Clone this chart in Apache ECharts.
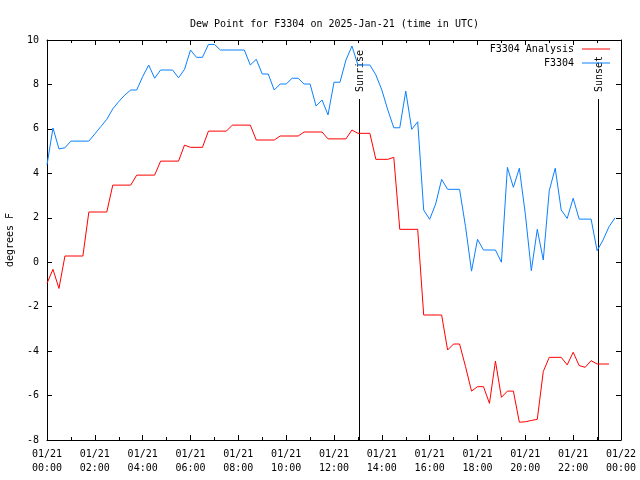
<!DOCTYPE html>
<html>
<head>
<meta charset="utf-8">
<script src="https://cdn.jsdelivr.net/npm/echarts@6/dist/echarts.min.js"></script>
<style>html,body{margin:0;padding:0;background:#fff}#c{width:640px;height:480px}</style>
</head>
<body>
<div id="c"></div>
<script>
// Observed dew point (F3304), time in hours UTC on 2025-01-21
const obsTimes = [0,0.25,0.5,0.75,1.0,1.75,2.25,2.5,2.75,3.0,3.25,3.5,3.75,4.0,4.25,4.5,4.75,5.25,5.5,5.75,6.0,6.25,6.5,6.75,7.0,7.25,8.25,8.5,8.75,9.0,9.25,9.5,9.75,10.0,10.25,10.5,10.75,11.0,11.25,11.5,11.75,12.0,12.25,12.5,12.75,13.0,13.5,13.75,14.0,14.25,14.5,14.75,15.0,15.25,15.5,15.75,16.0,16.25,16.5,16.75,17.25,17.5,17.75,18.0,18.25,18.75,19.0,19.25,19.5,19.75,20.0,20.25,20.5,20.75,21.0,21.25,21.5,21.75,22.0,22.25,22.75,23.0,23.25,23.5,23.75];
const obsValues = [4.38,6.04,5.1,5.15,5.45,5.45,6.1,6.43,6.9,7.23,7.52,7.75,7.75,8.35,8.875,8.28,8.65,8.65,8.3,8.68,9.55,9.22,9.22,9.8,9.8,9.55,9.55,8.875,9.13,8.47,8.47,7.75,8.02,8.02,8.28,8.28,8.02,8.02,7.03,7.3,6.63,8.1,8.1,9.1,9.73,8.875,8.875,8.43,7.75,6.85,6.05,6.05,7.7,5.98,6.32,2.35,1.93,2.62,3.73,3.28,3.28,1.6,-0.4,1.03,0.55,0.55,0.0,4.27,3.37,4.23,2.16,-0.38,1.48,0.1,3.22,4.23,2.35,1.97,2.88,1.94,1.94,0.52,1.0,1.6,2.0];

// Analysis dew point (F3304 Analysis)
const anaTimes = [0,0.25,0.5,0.75,1.5,1.75,2.5,2.75,3.5,3.75,4.5,4.75,5.5,5.75,6.0,6.5,6.75,7.5,7.75,8.5,8.75,9.5,9.75,10.5,10.75,11.5,11.75,12.5,12.75,13.0,13.5,13.75,14.25,14.5,14.75,15.5,15.75,16.5,16.75,17.0,17.25,17.5,17.75,18.0,18.25,18.5,18.75,19.0,19.25,19.5,19.75,20.0,20.25,20.5,20.75,21.0,21.5,21.75,22.0,22.25,22.5,22.75,23.0,23.5];
const anaValues = [-0.95,-0.32,-1.18,0.28,0.28,2.26,2.26,3.47,3.47,3.92,3.92,4.55,4.55,5.27,5.17,5.17,5.9,5.9,6.17,6.17,5.5,5.5,5.68,5.68,5.86,5.86,5.55,5.55,5.95,5.8,5.8,4.63,4.63,4.72,1.48,1.48,-2.375,-2.375,-3.95,-3.68,-3.68,-4.7,-5.8,-5.6,-5.6,-6.35,-4.45,-6.08,-5.8,-5.8,-7.2,-7.18,-7.12,-7.07,-4.92,-4.28,-4.28,-4.62,-4.05,-4.65,-4.73,-4.43,-4.58,-4.58];

const sunTimes = [13.05, 23.05];
const sunLabels = ['Sunrise', 'Sunset'];

const xTickLabels = ['01/21\n00:00','01/21\n02:00','01/21\n04:00','01/21\n06:00','01/21\n08:00','01/21\n10:00','01/21\n12:00','01/21\n14:00','01/21\n16:00','01/21\n18:00','01/21\n20:00','01/21\n22:00','01/22\n00:00'];

const FONT = 'DejaVu Sans Mono';
const chart = echarts.init(document.getElementById('c'), null, {renderer: 'canvas'});

function axisCommon() {
  return {
    type: 'value',
    axisLine: {show: true, onZero: false, lineStyle: {color: '#000', width: 1}},
    axisTick: {show: true, inside: true, length: 5, lineStyle: {color: '#000'}},
    splitLine: {show: false}
  };
}

chart.setOption({
  animation: false,
  backgroundColor: '#fff',
  textStyle: {fontFamily: FONT},
  title: {
    text: 'Dew Point for F3304 on 2025-Jan-21 (time in UTC)',
    left: 185, top: 14,
    textStyle: {fontFamily: FONT, fontSize: 10, fontWeight: 'normal', color: '#000'}
  },
  legend: [
    {data: ['F3304 Analysis'], right: 30, top: 44, padding: 0, align: 'right', icon: 'rect', itemWidth: 28, itemHeight: 1,
     textStyle: {fontFamily: FONT, fontSize: 10, color: '#000', padding: [0, 3, 0, 0]}},
    {data: ['F3304'], right: 30, top: 58, padding: 0, align: 'right', icon: 'rect', itemWidth: 28, itemHeight: 1,
     textStyle: {fontFamily: FONT, fontSize: 10, color: '#000', padding: [0, 3, 0, 0]}}
  ],
  grid: {left: 47, right: 19, top: 40, bottom: 40, show: false, containLabel: false, outerBoundsMode: 'none'},
  xAxis: [
    Object.assign(axisCommon(), {
      min: 0, max: 24, interval: 2, position: 'bottom',
      minorTick: {show: true, splitNumber: 2, length: 3, lineStyle: {color: '#000'}},
      axisLabel: {
        margin: 7, fontFamily: FONT, fontSize: 10, color: '#000', lineHeight: 14,
        formatter: v => xTickLabels[Math.round(v / 2)]
      }
    }),
    Object.assign(axisCommon(), {
      min: 0, max: 24, interval: 2, position: 'top',
      minorTick: {show: true, splitNumber: 2, length: 3, lineStyle: {color: '#000'}},
      axisLabel: {show: false}
    })
  ],
  yAxis: [
    Object.assign(axisCommon(), {
      min: -8, max: 10, interval: 2, position: 'left',
      name: 'degrees F', nameLocation: 'middle', nameGap: 32, nameRotate: 90,
      nameTextStyle: {fontFamily: FONT, fontSize: 10, color: '#000'},
      axisLabel: {margin: 8, fontFamily: FONT, fontSize: 10, color: '#000'}
    }),
    Object.assign(axisCommon(), {
      min: -8, max: 10, interval: 2, position: 'right',
      axisLabel: {show: false}
    })
  ],
  series: [
    {
      name: 'F3304 Analysis', type: 'line', showSymbol: false, symbol: 'none',
      color: '#ff0000', lineStyle: {width: 1, color: '#ff0000'},
      data: anaTimes.map((t, i) => [t, anaValues[i]])
    },
    {
      name: 'F3304', type: 'line', showSymbol: false, symbol: 'none',
      color: '#0a80ff', lineStyle: {width: 1, color: '#0a80ff'},
      data: obsTimes.map((t, i) => [t, obsValues[i]])
    },
    {
      name: 'sun', type: 'custom', clip: false, silent: true,
      data: sunTimes.map(t => [t, -8]),
      renderItem: function (params, api) {
        const x = api.value(0);
        const topPt = api.coord([x, 10]);
        const botPt = api.coord([x, -8]);
        const px = Math.round(topPt[0]) + 0.5;
        return {
          type: 'group',
          children: [
            {type: 'line', shape: {x1: px, y1: topPt[1] + 59, x2: px, y2: botPt[1]},
             style: {stroke: '#000', lineWidth: 1}},
            {type: 'text', x: px + 0.5, y: topPt[1] + 52, rotation: Math.PI / 2,
             style: {text: sunLabels[params.dataIndex], textAlign: 'left', textVerticalAlign: 'middle',
                     font: '10px ' + FONT, fill: '#000'}}
          ]
        };
      }
    }
  ]
});
</script>
</body>
</html>
